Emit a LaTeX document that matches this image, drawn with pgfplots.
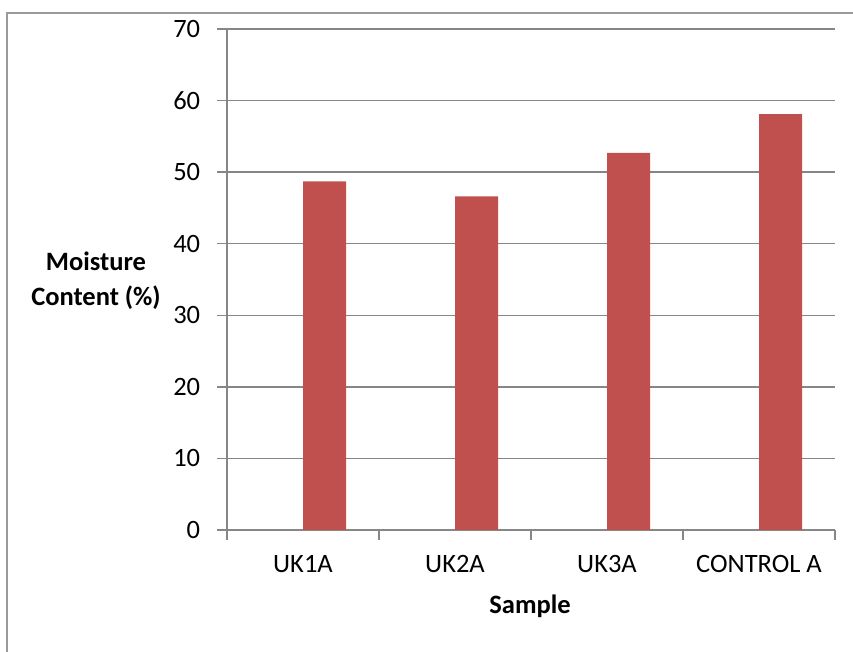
\documentclass[border=0pt]{standalone}
\usepackage{pgfplots}
\pgfplotsset{compat=1.18}
\usepackage{fontspec}
\setmainfont{Carlito}
\definecolor{barred}{HTML}{C0504D}
\definecolor{axgray}{HTML}{868686}
\definecolor{framegray}{HTML}{9A9A9A}
\begin{document}
\fontsize{26}{31}\selectfont
\begin{tikzpicture}[x=1pt,y=1pt]
\useasboundingbox (0,0) rectangle (853,652);
\draw[framegray, line width=1.5pt] (7,-2) -- (7,639) -- (855,639);
\begin{axis}[
    at={(227pt,122pt)}, anchor=south west,
    scale only axis, width=608pt, height=501pt,
    xmin=-0.5, xmax=3.5, ymin=0, ymax=70,
    enlargelimits=false,
    axis x line=bottom, axis y line=left,
    axis line style={-, axgray, line width=1.5pt},
    ytick={0,10,...,70},
    xtick={0,1,2,3},
    xticklabels={UK1A, UK2A, UK3A, CONTROL A},
    minor xtick={-0.5,0.5,1.5,2.5,3.5},
    tick align=outside,
    major tick length=10pt, minor tick length=10pt,
    x tick style={draw=none},
    minor x tick style={draw=axgray, line width=1.5pt},
    y tick style={axgray, line width=1.5pt},
    ymajorgrids, grid style={axgray, line width=1.5pt},
    /pgf/number format/assume math mode=true,
    ticklabel style={font=\fontsize{26.5}{31}\selectfont},
    xticklabel style={anchor=base, yshift=-33pt},
    yticklabel style={xshift=-8pt},
]
\addplot[ybar, bar width=0.283, bar shift=0.1415, fill=barred, draw=none]
coordinates {(0,48.7) (1,46.6) (2,52.7) (3,58.1)};
\end{axis}
\node[font=\bfseries\fontsize{26.5}{35}\selectfont, align=center] at (96,371) {Moisture\\Content (\%)};
\node[font=\bfseries\fontsize{26.5}{31}\selectfont] at (530,46) {Sample};
\end{tikzpicture}
\end{document}
